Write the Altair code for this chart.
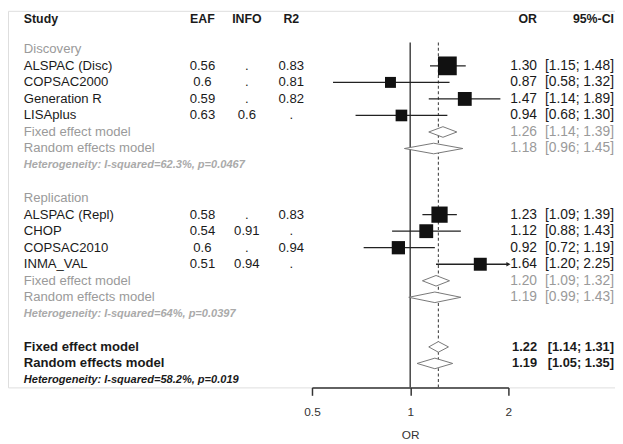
import altair as alt
import pandas as pd

FONT = "Liberation Sans"
BLACK = "#1a1a1a"
GRAY = "#9a9a9a"
LGRAY = "#aaaaaa"

# ---------------- data ----------------
groups = ["Discovery", "Replication"]

disc_study = ["ALSPAC (Disc)", "COPSAC2000", "Generation R", "LISAplus"]
disc_eaf = ["0.56", "0.6", "0.59", "0.63"]
disc_info = [".", ".", ".", "0.6"]
disc_r2 = ["0.83", "0.81", "0.82", "."]
disc_or = [1.30, 0.87, 1.47, 0.94]
disc_lo = [1.15, 0.58, 1.14, 0.68]
disc_hi = [1.48, 1.32, 1.89, 1.30]
disc_w = [44, 15, 24, 17]
disc_fixed = [1.26, 1.14, 1.39]
disc_random = [1.18, 0.96, 1.45]
disc_het = "Heterogeneity: I-squared=62.3%, p=0.0467"

rep_study = ["ALSPAC (Repl)", "CHOP", "COPSAC2010", "INMA_VAL"]
rep_eaf = ["0.58", "0.54", "0.6", "0.51"]
rep_info = [".", "0.91", ".", "0.94"]
rep_r2 = ["0.83", ".", "0.94", "."]
rep_or = [1.23, 1.12, 0.92, 1.64]
rep_lo = [1.09, 0.88, 0.72, 1.20]
rep_hi = [1.39, 1.43, 1.19, 2.25]
rep_w = [33, 24, 22, 21]
rep_fixed = [1.20, 1.09, 1.32]
rep_random = [1.19, 0.99, 1.43]
rep_het = "Heterogeneity: I-squared=64%, p=0.0397"

all_fixed = [1.22, 1.14, 1.31]
all_random = [1.19, 1.05, 1.35]
all_het = "Heterogeneity: I-squared=58.2%, p=0.019"

headers = ["Study", "EAF", "INFO", "R2", "OR", "95%-CI"]
x_ticks = [0.5, 1, 2]
null_value = 1

# ---------------- build row table ----------------
study_rows, summ_rows, sect_rows, het_rows = [], [], [], []
r = 0
blocks = [
    (groups[0], disc_study, disc_eaf, disc_info, disc_r2, disc_or, disc_lo, disc_hi, disc_w, disc_fixed, disc_random, disc_het),
    (groups[1], rep_study, rep_eaf, rep_info, rep_r2, rep_or, rep_lo, rep_hi, rep_w, rep_fixed, rep_random, rep_het),
]
for (g, st, eaf, info, r2, orv, lo, hi, w, fx, rn, het) in blocks:
    sect_rows.append(dict(r=r, label=g))
    r += 1
    for i in range(len(st)):
        study_rows.append(dict(r=r, label=st[i], eaf=eaf[i], info=info[i], r2=r2[i],
                               est=orv[i], lo=lo[i], hi=hi[i], w=w[i],
                               ortxt=f"{orv[i]:.2f}", citxt=f"[{lo[i]:.2f}; {hi[i]:.2f}]"))
        r += 1
    for name, v in (("Fixed effect model", fx), ("Random effects model", rn)):
        summ_rows.append(dict(r=r, label=name, est=v[0], lo=v[1], hi=v[2], overall=False,
                              ortxt=f"{v[0]:.2f}", citxt=f"[{v[1]:.2f}; {v[2]:.2f}]"))
        r += 1
    het_rows.append(dict(r=r, label=het, overall=False))
    r += 2
for name, v in (("Fixed effect model", all_fixed), ("Random effects model", all_random)):
    summ_rows.append(dict(r=r, label=name, est=v[0], lo=v[1], hi=v[2], overall=True,
                          ortxt=f"{v[0]:.2f}", citxt=f"[{v[1]:.2f}; {v[2]:.2f}]"))
    r += 1
het_rows.append(dict(r=r, label=all_het, overall=True))

studies = pd.DataFrame(study_rows)
summ = pd.DataFrame(summ_rows)
sects = pd.DataFrame(sect_rows)
hets = pd.DataFrame(het_rows)
hdr = pd.DataFrame([dict(r=-1.85, label=h) for h in headers])

dh = 0.32
dia = []
for i, s in summ.iterrows():
    dia += [dict(id=i, x=s.lo, y=s.r, y2=s.r),
            dict(id=i, x=s.est, y=s.r - dh, y2=s.r + dh),
            dict(id=i, x=s.hi, y=s.r, y2=s.r)]
dia = pd.DataFrame(dia)

# ---------------- layout ----------------
ROW = 16.75
TOP = 39.0           # y of first row (Discovery) inside the chart
R_MIN = -TOP / ROW
R_AXIS = 20.45
H = TOP + R_AXIS * ROW

xscale = alt.Scale(type="log", domain=[0.5, 2], range=[308, 507], clamp=True, nice=False)
yscale = alt.Scale(domain=[R_MIN, R_AXIS], reverse=True, nice=False, zero=False)
xaxis = alt.Axis(values=x_ticks, format="~g", tickSize=8, tickWidth=1.5, domainWidth=1.5,
                 domainColor="#333", tickColor="#333", labelColor="#333", labelFont=FONT,
                 labelFontSize=12, labelPadding=11, grid=False, labelFlush=False,
                 title="OR", titleFont=FONT, titleFontSize=12, titleFontWeight="normal",
                 titleColor="#333", titlePadding=13)


def X(f):
    return alt.X(f"{f}:Q", scale=xscale, axis=xaxis)


def Y(f="r"):
    return alt.Y(f"{f}:Q", scale=yscale, axis=None)


layers = []
one = pd.DataFrame({"v": [null_value]})
layers.append(alt.Chart(one).mark_rule(color="#444", strokeWidth=1.5).encode(
    x=X("v"), y=alt.value(32), y2=alt.value(H)))
pooled = pd.DataFrame({"v": [all_fixed[0]]})
layers.append(alt.Chart(pooled).mark_rule(color="#444", strokeWidth=1.1, strokeDash=[3, 2.5]).encode(
    x=X("v"), y=alt.value(32), y2=alt.value(H)))

layers.append(alt.Chart(studies).mark_rule(color="#222", strokeWidth=1.3).encode(
    x=X("lo"), x2="hi:Q", y=Y()))
layers.append(alt.Chart(studies).transform_filter("datum.hi > 2").mark_point(
    shape="triangle-right", filled=True, size=22, color="#222", opacity=1).encode(
    x=X("hi"), y=Y()))
layers.append(alt.Chart(studies).mark_square(filled=True, color="#111", opacity=1).encode(
    x=X("est"), y=Y(),
    size=alt.Size("w:Q", scale=alt.Scale(domain=[0, 44], range=[0, 361]), legend=None)))
layers.append(alt.Chart(dia).mark_area(fill="white", stroke="#777", strokeWidth=1, opacity=1).encode(
    x=X("x"), y=Y("y"), y2="y2:Q", detail="id:N"))


def txt(data, field, xpix, align="left", color=BLACK, weight="normal", style="normal", size=13.3):
    return alt.Chart(data).mark_text(align=align, baseline="middle", font=FONT, fontSize=size,
                                     fontWeight=weight, fontStyle=style, color=color).encode(
        x=alt.value(xpix), y=Y(), text=f"{field}:N")


XS, XE, XI, XR, XO, XC = 16, 197, 242, 287, 536, 614
NUM = 14

hdr_x = [(XS, "left"), (XE, "center"), (XI, "center"), (XR, "center"), (XO, "right"), (XC, "right")]
for h, (xp, al) in zip(headers, hdr_x):
    layers.append(txt(hdr[hdr.label == h], "label", xp, al, BLACK, "bold", size=12.5))

layers.append(txt(sects, "label", XS, color=GRAY))
layers.append(txt(studies, "label", XS))
layers.append(txt(studies, "eaf", XE, "center"))
layers.append(txt(studies, "info", XI, "center"))
layers.append(txt(studies, "r2", XR, "center"))
layers.append(txt(studies, "ortxt", XO, "right", size=NUM))
layers.append(txt(studies, "citxt", XC, "right", size=NUM))

sub = summ[~summ.overall]
ov = summ[summ.overall]
for d, c, wgt, sz in ((sub, GRAY, "normal", NUM), (ov, BLACK, "bold", 13)):
    layers.append(txt(d, "label", XS, color=c, weight=wgt))
    layers.append(txt(d, "ortxt", XO, "right", color=c, weight=wgt, size=sz))
    layers.append(txt(d, "citxt", XC, "right", color=c, weight=wgt, size=sz))

layers.append(txt(hets[~hets.overall], "label", XS, color=LGRAY, weight="bold", style="italic", size=11.2))
layers.append(txt(hets[hets.overall], "label", XS, color=BLACK, weight="bold", style="italic", size=11.2))

chart = alt.layer(*layers).properties(
    width=615, height=H,
    autosize=alt.AutoSizeParams(type="none"),
    padding={"left": 0, "top": 0, "right": 0, "bottom": 436 - H},
).configure_view(stroke=None).configure(background="white")

chart.save("out.html", embed_options={"renderer": "svg", "actions": False})
